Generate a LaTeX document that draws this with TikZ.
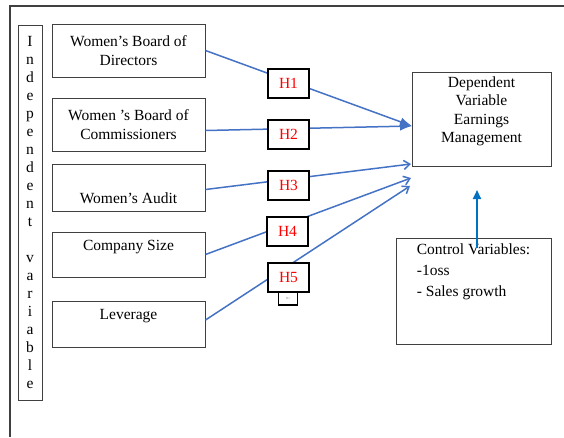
\documentclass[tikz,border=0pt]{standalone}
\usepackage{fontspec}
\setmainfont{Liberation Serif}
\usetikzlibrary{arrows.meta}
\definecolor{linkblue}{RGB}{68,114,196}
\definecolor{ctrlblue}{RGB}{0,112,192}
\definecolor{boxgray}{RGB}{64,64,64}

\begin{document}
\begin{tikzpicture}[x=1pt,y=-1pt,
  every node/.style={font=\fontsize{15.5}{19}\selectfont},
  var/.style={draw=boxgray,line width=1pt,minimum width=153pt,align=center,inner sep=2pt},
  hyp/.style={draw=black,line width=2pt,fill=white,text=red,minimum width=41pt,minimum height=29pt,inner sep=0pt},
  link/.style={draw=linkblue,line width=1.5pt},
  solid tip/.style={-{Latex[length=12pt,width=9pt]}},
  open tip/.style={-{Straight Barb[length=6pt,width=9pt,line width=1.5pt]}}]
\useasboundingbox (0,0) rectangle (564,437);
\draw[boxgray,line width=1.3pt] (10,437) -- (10,6) -- (564,6);

\node[var,minimum width=24pt,minimum height=375pt,inner sep=0pt,font=\fontsize{15.5}{18}\selectfont] (indep) at (30,212.5)
  {I\\n\\d\\e\\p\\e\\n\\d\\e\\n\\t\\\mbox{}\\v\\a\\r\\i\\a\\b\\l\\e};

\node[var,minimum height=53pt] (b1) at (128.5,50.5) {Women's Board of\\Directors};
\node[var,minimum height=53pt] (b2) at (128.5,124.5) {Women 's Board of\\Commissioners};
\node[var,minimum height=47pt] (b3) at (128.5,187.5) {\strut\\Women's Audit};
\node[var,minimum height=45pt] (b4) at (128.5,254.5) {Company Size\\\mbox{}};
\node[var,minimum height=46pt] (b5) at (128.5,324) {Leverage\\\mbox{}};

\node[var,minimum width=139pt,minimum height=94pt,font=\fontsize{15.5}{18.5}\selectfont] (dep) at (481.5,119)
  {Dependent\\Variable\\Earnings\\Management\\\mbox{}};
\node[var,minimum width=155pt,minimum height=106pt,align=left,font=\fontsize{15.5}{21}\selectfont] (ctrl) at (473.5,291)
  {Control Variables:\\-1oss\\- Sales growth\\\mbox{}\\\mbox{}};

\coordinate (t1) at (412,126);
\coordinate (t3) at (411,164);
\coordinate (t4) at (411,178);
\coordinate (t5) at (410,186);
\coordinate (cv) at (477,248);
\coordinate (dv) at (477,190);

\draw[link,solid tip] (b1.east) -- (t1);
\draw[link,solid tip] ([yshift=-6pt]b2.east) -- (t1);
\draw[link,open tip] ([yshift=-2pt]b3.east) -- (t3);
\draw[link,open tip] (b4.east) -- (t4);
\draw[link,open tip] ([yshift=4pt]b5.east) -- (t5);

\node[hyp] (h1) at (288.5,83.5) {H1};
\node[hyp] (h2) at (288.5,134.5) {H2};
\node[hyp] (h3) at (288.5,185.5) {H3};
\node[hyp] (h4) at (287.5,231) {H4};
\node[draw=black,line width=1.5pt,fill=white,minimum width=19pt,minimum height=13pt,inner sep=0pt,
  text=gray,font=\fontsize{3}{3}\selectfont] (h5b) at (288,298.5) {H1};
\node[hyp] (h5) at (288.5,277) {H5};

\draw[ctrlblue,line width=2pt,-{Triangle[length=9pt,width=8pt]}] (cv) -- (dv);
\end{tikzpicture}
\end{document}
